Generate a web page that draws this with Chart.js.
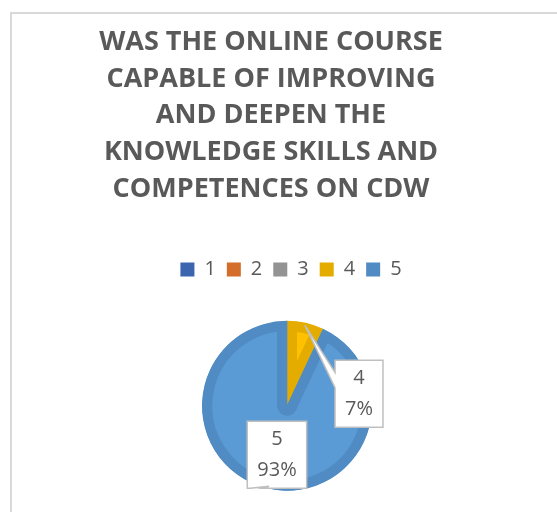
<!DOCTYPE html>
<html>
<head>
<meta charset="utf-8">
<script src="https://cdn.jsdelivr.net/npm/chart.js@4.4.1/dist/chart.umd.min.js"></script>
<style>
  html, body { margin: 0; padding: 0; background: #fff; }
  #frame { position: absolute; left: 10px; top: 12px; width: 600px; height: 560px;
           border-left: 2px solid #D9D9D9; border-top: 2px solid #D9D9D9; }
  #wrap { position: absolute; left: 0; top: 0; width: 557px; height: 512px; }
</style>
</head>
<body>
<div id="frame"></div>
<div id="wrap"><canvas id="chart" width="557" height="512"></canvas></div>
<script>
// ── Data ────────────────────────────────────────────────
const TITLE_LINES = [
  'WAS THE ONLINE COURSE',
  'CAPABLE OF IMPROVING',
  'AND DEEPEN THE',
  'KNOWLEDGE SKILLS AND',
  'COMPETENCES ON CDW',
];
const CATEGORIES = ['1', '2', '3', '4', '5'];
const SHARES = [0, 0, 0, 7, 93]; // percent of answers

const FILL_COLORS = ['#4472C4', '#ED7D31', '#A5A5A5', '#FFC000', '#5B9BD5'];
const EDGE_COLORS = ['#3C65B0', '#D46F2B', '#939393', '#E5AC00', '#508BC3'];

const FONT = "'Open Sans', 'DejaVu Sans', sans-serif";
const TEXT = '#595959';

// ── Callout data labels ("category / percent" in a box with a tail) ──
const calloutPlugin = {
  id: 'callouts',
  afterDatasetsDraw(chart, args, opts) {
    const ctx = chart.ctx;
    const meta = chart.getDatasetMeta(0);
    const total = SHARES.reduce((a, b) => a + b, 0);
    ctx.save();
    ctx.font = `20px ${FONT}`;
    meta.data.forEach((arc, i) => {
      if (!SHARES[i]) return;
      const place = opts.place[i];
      const p = arc.getProps(['x', 'y', 'startAngle', 'endAngle', 'outerRadius'], true);
      const mid = (p.startAngle + p.endAngle) / 2;
      const tipX = p.x + Math.cos(mid) * p.outerRadius * 0.97;
      const tipY = p.y + Math.sin(mid) * p.outerRadius * 0.97;

      const lines = [CATEGORIES[i], Math.round(SHARES[i] / total * 100) + '%'];
      const w = Math.max(...lines.map(t => ctx.measureText(t).width)) + 20;
      const h = 67;
      const cx = p.x + place.dx * p.outerRadius;
      const cy = p.y + place.dy * p.outerRadius;
      const L = cx - w / 2, T = cy - h / 2, R = L + w, B = T + h;

      ctx.beginPath();
      ctx.moveTo(L, T);
      ctx.lineTo(R, T);
      ctx.lineTo(R, B);
      if (place.side === 'bottom') {
        ctx.lineTo(L + w * place.b, B);
        ctx.lineTo(tipX, tipY);
        ctx.lineTo(L + w * place.a, B);
      }
      ctx.lineTo(L, B);
      if (place.side === 'left') {
        ctx.lineTo(L, T + h * place.b);
        ctx.lineTo(tipX, tipY);
        ctx.lineTo(L, T + h * place.a);
      }
      ctx.closePath();
      ctx.fillStyle = '#FFFFFF';
      ctx.fill();
      ctx.strokeStyle = '#BFBFBF';
      ctx.lineWidth = 1.5;
      ctx.stroke();

      ctx.fillStyle = TEXT;
      ctx.textAlign = 'center';
      ctx.textBaseline = 'middle';
      ctx.fillText(lines[0], cx, cy - 15.5);
      ctx.fillText(lines[1], cx, cy + 15.5);
    });
    ctx.restore();
  },
};

// nudge title / legend like the original layout
const shiftPlugin = {
  id: 'shiftBlocks',
  afterLayout(chart, args, opts) {
    if (chart.titleBlock) { chart.titleBlock.left += opts.title; chart.titleBlock.right += opts.title; }
    if (chart.legend) {
      chart.legend.left += opts.legend; chart.legend.right += opts.legend;
      chart.legend.top += opts.legendUp; chart.legend.bottom += opts.legendUp;
    }
  },
};

new Chart(document.getElementById('chart'), {
  type: 'pie',
  data: {
    labels: CATEGORIES,
    datasets: [{
      data: SHARES,
      backgroundColor: FILL_COLORS,
      borderColor: EDGE_COLORS,
      borderWidth: 10,
      borderAlign: 'inner',
      radius: 85,
    }],
  },
  options: {
    responsive: false,
    animation: false,
    events: [],
    layout: { padding: { top: 14, left: 17, right: 0, bottom: 0 } },
    plugins: {
      title: {
        display: true,
        text: TITLE_LINES,
        color: TEXT,
        font: { family: FONT, size: 27, weight: 'bold', lineHeight: 1.36 },
        padding: { top: 10, bottom: 51 },
      },
      legend: {
        position: 'top',
        labels: {
          boxWidth: 14,
          boxHeight: 14,
          padding: 11,
          color: TEXT,
          font: { family: FONT, size: 20 },
          generateLabels: () => CATEGORIES.map((c, i) => ({
            text: c,
            fillStyle: EDGE_COLORS[i],
            strokeStyle: EDGE_COLORS[i],
            lineWidth: 0,
            hidden: false,
            index: i,
            fontColor: TEXT,
          })),
        },
      },
      tooltip: { enabled: false },
      shiftBlocks: { title: -16, legend: 4, legendUp: -10 },
      callouts: {
        place: {
          3: { dx: 0.847, dy: -0.141, side: 'left', a: 0.18, b: 0.41 },
          4: { dx: -0.118, dy: 0.576, side: 'bottom', a: 0.05, b: 0.25 },
        },
      },
    },
  },
  plugins: [calloutPlugin, shiftPlugin],
});
</script>
</body>
</html>
